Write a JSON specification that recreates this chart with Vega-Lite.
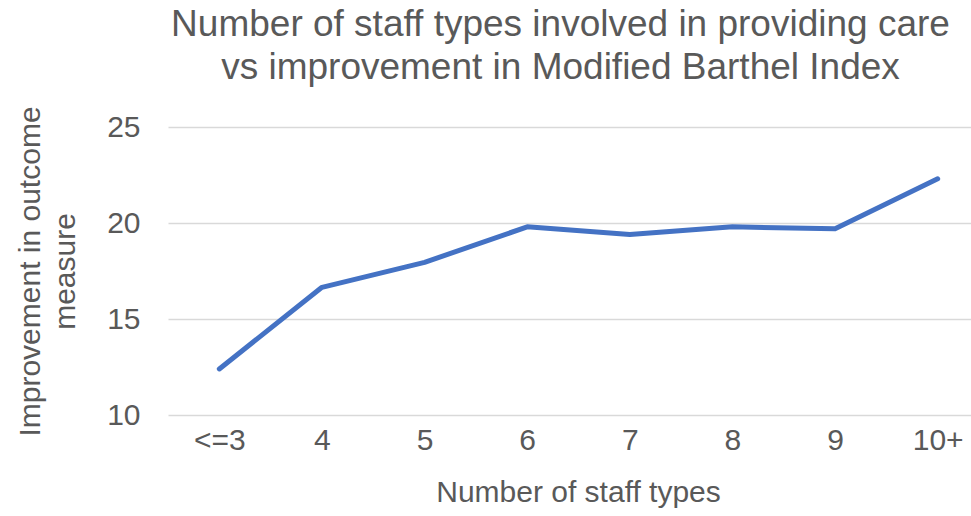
{
  "$schema": "https://vega.github.io/schema/vega-lite/v6.json",
  "autosize": "none",
  "width": 821,
  "height": 288,
  "padding": {"left": 168, "top": 127, "right": -18, "bottom": 101},
  "background": "white",
  "title": {
    "text": ["Number of staff types involved in providing care", "vs improvement in Modified Barthel Index"],
    "font": "Liberation Sans",
    "fontSize": 37,
    "fontWeight": "normal",
    "color": "#595959",
    "anchor": "middle",
    "lineHeight": 43,
    "offset": 19,
    "frame": "group",
    "dx": -18
  },
  "data": {
    "values": [
      {"staff": "<=3", "improvement": 12.4},
      {"staff": "4", "improvement": 16.65},
      {"staff": "5", "improvement": 17.95},
      {"staff": "6", "improvement": 19.8},
      {"staff": "7", "improvement": 19.4},
      {"staff": "8", "improvement": 19.8},
      {"staff": "9", "improvement": 19.7},
      {"staff": "10+", "improvement": 22.3}
    ]
  },
  "mark": {"type": "line", "color": "#4472c4", "strokeWidth": 5, "strokeCap": "round", "strokeJoin": "round"},
  "encoding": {
    "x": {
      "field": "staff", "type": "ordinal", "sort": null,
      "scale": {"type": "point", "padding": 0.5},
      "axis": {
        "title": "Number of staff types",
        "titleFont": "Liberation Sans", "titleFontSize": 30, "titleFontWeight": "normal", "titleColor": "#595959",
        "titlePadding": 22,
        "titleX": 410,
        "labelFont": "Liberation Sans", "labelFontSize": 30, "labelColor": "#595959", "labelAngle": 0,
        "labelPadding": 10,
        "domain": false, "ticks": false, "grid": false
      }
    },
    "y": {
      "field": "improvement", "type": "quantitative",
      "scale": {"domain": [10, 25]},
      "axis": {
        "title": ["Improvement in outcome", "measure"],
        "titleFont": "Liberation Sans", "titleFontSize": 30, "titleFontWeight": "normal", "titleColor": "#595959",
        "titleLineHeight": 35,
        "titlePadding": 26,
        "labelFont": "Liberation Sans", "labelFontSize": 30, "labelColor": "#595959",
        "labelPadding": 28,
        "values": [10, 15, 20, 25],
        "domain": false, "ticks": false,
        "grid": true, "gridColor": "#d9d9d9", "gridWidth": 1.5
      }
    }
  },
  "config": {"view": {"stroke": null}}
}
